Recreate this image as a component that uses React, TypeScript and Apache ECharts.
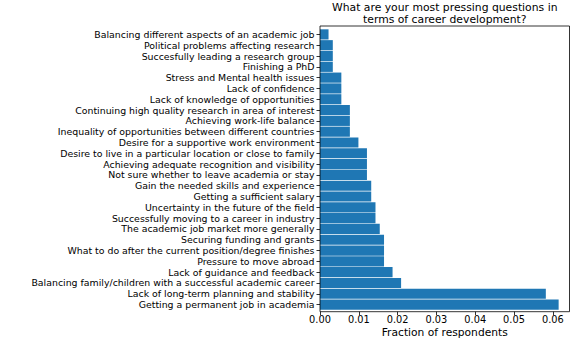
import React, { useEffect, useRef } from "react";
import * as echarts from "echarts";

const categories: string[] = [
  "Balancing different aspects of an academic job",
  "Political problems affecting research",
  "Succesfully leading a research group",
  "Finishing a PhD",
  "Stress and Mental health issues",
  "Lack of confidence",
  "Lack of knowledge of opportunities",
  "Continuing high quality research in area of interest",
  "Achieving work-life balance",
  "Inequality of opportunities between different countries",
  "Desire for a supportive work environment",
  "Desire to live in a particular location or close to family",
  "Achieving adequate recognition and visibility",
  "Not sure whether to leave academia or stay",
  "Gain the needed skills and experience",
  "Getting a sufficient salary",
  "Uncertainty in the future of the field",
  "Successfully moving to a career in industry",
  "The academic job market more generally",
  "Securing funding and grants",
  "What to do after the current position/degree finishes",
  "Pressure to move abroad",
  "Lack of guidance and feedback",
  "Balancing family/children with a successful academic career",
  "Lack of long-term planning and stability",
  "Getting a permanent job in academia",
];

const fractions: number[] = [
  0.0022, 0.0033, 0.0033, 0.0033, 0.0055, 0.0055, 0.0055, 0.0077, 0.0077,
  0.0077, 0.0099, 0.0121, 0.0121, 0.0121, 0.0132, 0.0132, 0.0143, 0.0143,
  0.0154, 0.0165, 0.0165, 0.0165, 0.0187, 0.0209, 0.0582, 0.0615,
];

const xTickInterval = 0.01;
const xMax = 0.0643;

const titleText = "What are your most pressing questions in\nterms of career development?";
const xAxisName = "Fraction of respondents";

const FONT = "DejaVu Sans";

export default function App() {
  const ref = useRef<HTMLDivElement>(null);
  useEffect(() => {
    if (!ref.current) return;
    const chart = echarts.init(ref.current, undefined, { renderer: "svg" });
    const plotLeft = 320;
    const plotRight = 569.5;
    const frameTop = 26;
    const frameBottom = 311.7;
    chart.setOption({
      animation: false,
      backgroundColor: "#ffffff",
      textStyle: { fontFamily: FONT },
      grid: {
        left: plotLeft,
        top: 29,
        width: plotRight - plotLeft,
        height: 281,
        containLabel: false,
        outerBoundsMode: "none",
      },
      xAxis: {
        type: "value",
        min: 0,
        max: xMax,
        interval: xTickInterval,
        offset: 1.7,
        axisLine: { show: false },
        axisTick: { show: true, length: 3.5, lineStyle: { color: "#000", width: 0.8 } },
        axisLabel: {
          color: "#000",
          fontSize: 9.8,
          fontFamily: FONT,
          margin: 2.5,
          showMaxLabel: false,
          formatter: (v: number) => v.toFixed(2),
        },
        splitLine: { show: false },
      },
      yAxis: {
        type: "category",
        data: categories,
        inverse: true,
        axisLine: { show: false },
        axisTick: {
          show: true,
          interval: 0,
          alignWithLabel: true,
          length: 3.5,
          lineStyle: { color: "#000", width: 0.8 },
        },
        axisLabel: { interval: 0, color: "#000", fontSize: 9.4, fontFamily: FONT, margin: 5.5 },
        splitLine: { show: false },
      },
      series: [
        {
          type: "bar",
          data: fractions,
          barCategoryGap: "6%",
          itemStyle: { color: "#1f77b4" },
        },
      ],
      graphic: [
        {
          type: "rect",
          silent: true,
          shape: {
            x: plotLeft,
            y: frameTop,
            width: plotRight - plotLeft,
            height: frameBottom - frameTop,
          },
          style: { fill: "none", stroke: "#000", lineWidth: 0.8 },
          z: 100,
        },
        {
          type: "text",
          silent: true,
          x: (plotLeft + plotRight) / 2,
          y: 1,
          style: {
            text: titleText,
            align: "center",
            verticalAlign: "top",
            fontFamily: FONT,
            fontSize: 10.8,
            lineHeight: 12.5,
            fill: "#000",
          },
        },
        {
          type: "text",
          silent: true,
          x: (plotLeft + plotRight) / 2,
          y: 332,
          style: {
            text: xAxisName,
            align: "center",
            verticalAlign: "middle",
            fontFamily: FONT,
            fontSize: 10.7,
            fill: "#000",
          },
        },
      ],
    });
    return () => chart.dispose();
  }, []);
  return (
    <div
      ref={ref}
      style={{ position: "fixed", left: 0, top: 0, width: 581, height: 339, background: "#fff" }}
    />
  );
}
